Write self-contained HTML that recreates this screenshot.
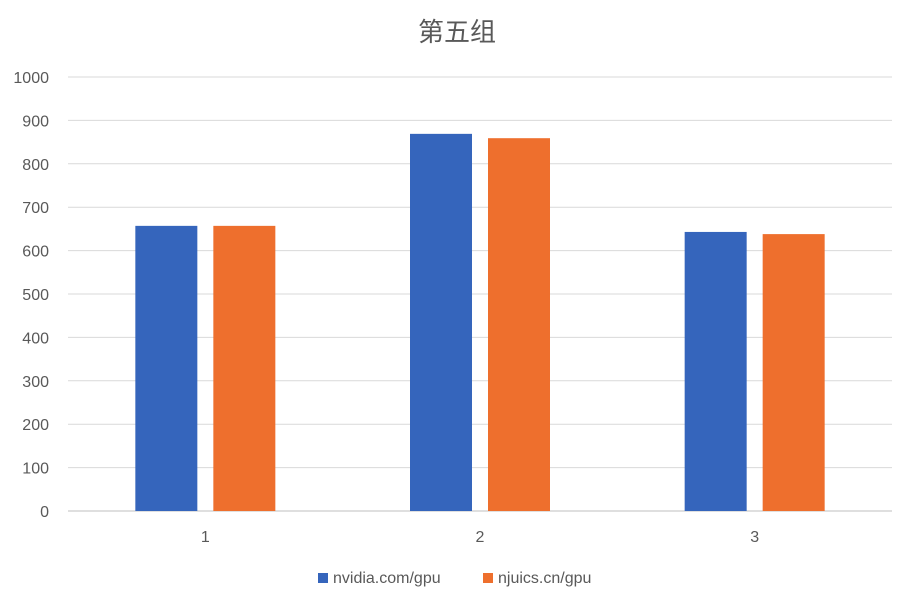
<!DOCTYPE html>
<html><head><meta charset="utf-8"><style>
body{margin:0;background:#fff;}
svg{display:block;font-family:"Liberation Sans","Noto Sans CJK SC",sans-serif;}
</style></head><body>
<svg id="chart" width="914" height="592" viewBox="0 0 914 592">
<text x="457" y="41" text-anchor="middle" font-size="26" fill="#595959" font-family="'Liberation Sans','Noto Sans CJK SC',sans-serif">第五组</text>
<g id="grid"></g><g id="bars"></g><g id="labels"></g>
<g>
<rect x="318" y="573" width="10" height="10" fill="#3565BC"/>
<text x="333" y="583" font-size="16" fill="#595959">nvidia.com/gpu</text>
<rect x="483" y="573" width="10" height="10" fill="#EE6F2D"/>
<text x="498" y="583" font-size="16" fill="#595959">njuics.cn/gpu</text>
</g>
</svg>
<script>
const categories=["1","2","3"];
const nvidia=[657,869,643];
const njuics=[657,859,638];
const yTicks=[0,100,200,300,400,500,600,700,800,900,1000];
const ns="http://www.w3.org/2000/svg";
const x0=68,x1=892,y0=511,y1=77;
const y=v=>y0-(v/1000)*(y0-y1);
const band=(x1-x0)/categories.length;
const cx=i=>x0+band*(i+0.5);
function mk(tag,attrs,parent){const e=document.createElementNS(ns,tag);for(const k in attrs)e.setAttribute(k,attrs[k]);parent.appendChild(e);return e;}
const grid=document.getElementById('grid'),bars=document.getElementById('bars'),labels=document.getElementById('labels');
yTicks.forEach(t=>{
 const l=mk('line',{x1:x0,x2:x1,y1:y(t),y2:y(t),stroke:t===0?'#BFBFBF':'#D9D9D9','stroke-width':1},grid);
 
 
 const tx=mk('text',{x:49,y:y(t)+6,'text-anchor':'end','font-size':16,fill:'#595959'},labels);
 tx.textContent=t;
 
 
});
const bw=62,gap=16;
categories.forEach((c,i)=>{
 const b1=mk('rect',{x:cx(i)-gap/2-bw,y:y(nvidia[i]),width:bw,height:y0-y(nvidia[i]),fill:'#3565BC'},bars);
 
 
 const b2=mk('rect',{x:cx(i)+gap/2,y:y(njuics[i]),width:bw,height:y0-y(njuics[i]),fill:'#EE6F2D'},bars);
 
 
 const t=mk('text',{x:cx(i),y:542,'text-anchor':'middle','font-size':16,fill:'#595959'},labels);
 t.textContent=c;
 
 
});
</script>
</body></html>
